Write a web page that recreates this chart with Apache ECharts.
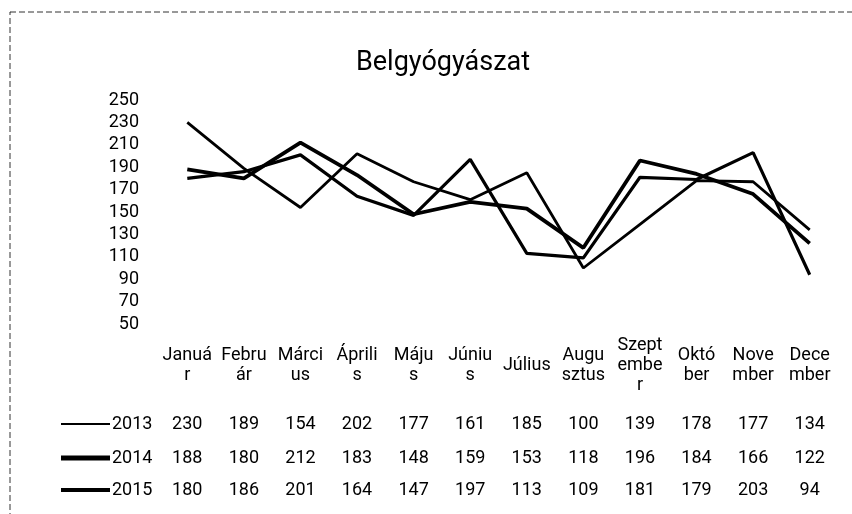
<!DOCTYPE html>
<html>
<head>
<meta charset="utf-8">
<script src="https://cdn.jsdelivr.net/npm/echarts@6/dist/echarts.min.js"></script>
<style>
  html, body { margin: 0; padding: 0; background: #fff; }
  #main { width: 852px; height: 514px; }
</style>
</head>
<body>
<div id="main"></div>
<script>
(function () {
  var myChart = echarts.init(document.getElementById('main'));

  // adatok
  var months = ['Január', 'Február', 'Március', 'Április', 'Május', 'Június',
    'Július', 'Augusztus', 'Szeptember', 'Október', 'November', 'December'];
  // tengelyfeliratok, ahogy az Excel tördelte
  var monthLabels = ['Januá\nr', 'Febru\nár', 'Márci\nus', 'Áprili\ns', 'Máju\ns', 'Júniu\ns',
    'Július', 'Augu\nsztus', 'Szept\nembe\nr', 'Októ\nber', 'Nove\nmber', 'Dece\nmber'];
  var years = ['2013', '2014', '2015'];
  var data2013 = [230, 189, 154, 202, 177, 161, 185, 100, 139, 178, 177, 134];
  var data2014 = [188, 180, 212, 183, 148, 159, 153, 118, 196, 184, 166, 122];
  var data2015 = [180, 186, 201, 164, 147, 197, 113, 109, 181, 179, 203, 94];
  var yMin = 50, yMax = 250, yStep = 20;

  var font = 'Roboto, "Liberation Sans", sans-serif';
  var allData = [data2013, data2014, data2015];
  var widths = [2.8, 3.8, 3.2];
  var legendHeights = [2, 5, 4];
  var rowMargins = [100, 134, 166];

  var xAxes = [{
    type: 'category',
    data: monthLabels,
    boundaryGap: true,
    axisLine: {show: false},
    axisTick: {show: false},
    axisLabel: {
      interval: 0,
      margin: 41,
      verticalAlign: 'middle',
      lineHeight: 20,
      fontSize: 18,
      fontFamily: font,
      color: '#000'
    }
  }];
  // adattábla sorai: külön kategóriatengelyek
  allData.forEach(function (d, i) {
    xAxes.push({
      type: 'category',
      position: 'bottom',
      data: d.map(String),
      boundaryGap: true,
      axisLine: {show: false},
      axisTick: {show: false},
      axisLabel: {
        interval: 0,
        margin: rowMargins[i],
        verticalAlign: 'middle',
        fontSize: 18,
        fontFamily: font,
        color: '#000'
      }
    });
  });

  var legends = years.map(function (y, i) {
    return {
      data: [{name: y, icon: 'rect'}],
      left: 56,
      top: 424 + rowMargins[i] - 100 - 14,
      itemWidth: 49,
      itemHeight: legendHeights[i],
      itemGap: 0,
      selectedMode: false,
      textStyle: {fontSize: 18, fontFamily: font, color: '#000', padding: [0, 0, 0, -3]}
    };
  });

  var series = years.map(function (y, i) {
    return {
      name: y,
      type: 'line',
      xAxisIndex: 0,
      data: allData[i],
      symbol: 'none',
      animation: false,
      itemStyle: {color: '#000'},
      lineStyle: {color: '#000', width: widths[i]}
    };
  });

  var option = {
    backgroundColor: '#fff',
    animation: false,
    title: {
      text: 'Belgyógyászat',
      left: 'center',
      top: 45,
      left: 438,
      textAlign: 'center',
      textStyle: {fontSize: 27, fontWeight: 'normal', fontFamily: font, color: '#000'}
    },
    legend: legends,
    grid: {left: 159, right: 14, top: 100, bottom: 190},
    xAxis: xAxes,
    yAxis: {
      type: 'value',
      min: yMin,
      max: yMax,
      interval: yStep,
      axisLine: {show: false},
      axisTick: {show: false},
      splitLine: {show: false},
      axisLabel: {margin: 20, fontSize: 18, fontFamily: font, color: '#000'}
    },
    graphic: [{
      type: 'rect',
      shape: {x: 10, y: 12, width: 900, height: 600},
      style: {fill: 'none', stroke: '#333', lineWidth: 1, lineDash: [6, 3]},
      silent: true
    }],
    series: series
  };

  myChart.setOption(option);
})();
</script>
</body>
</html>
